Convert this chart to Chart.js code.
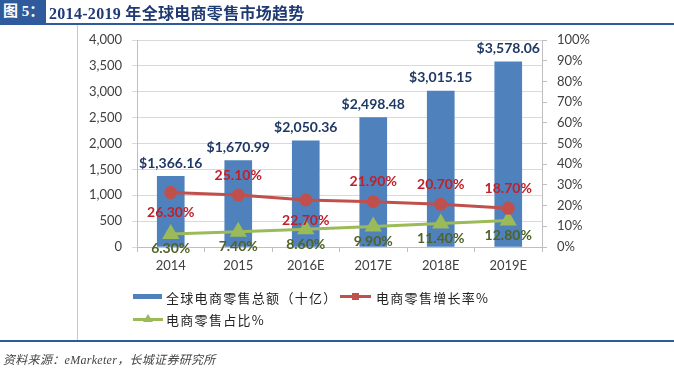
<!DOCTYPE html>
<html>
<head>
<meta charset="utf-8">
<script src="https://cdn.jsdelivr.net/npm/chart.js@4/dist/chart.umd.min.js"></script>
<style>
  body { margin: 0; background: #fff; }
  #wrap { position: relative; width: 674px; height: 371px; overflow: hidden; }
  #chart { position: absolute; left: 0; top: 0; }
  .title-box { position: absolute; left: 0; top: 0; width: 46px; height: 23px; background: #2f5b9c; color: #fff;
    font: bold 15px "Liberation Serif", "Noto Sans CJK SC", serif; line-height: 23px; padding-left: 3px; box-sizing: border-box; }
  .title { position: absolute; left: 49px; top: 0; height: 23px; line-height: 23px; color: #1f3a73;
    font: bold 16px "Liberation Serif", "Noto Sans CJK SC", serif; letter-spacing: 0.3px; }
  .rule-top { position: absolute; left: 0; top: 23px; width: 674px; height: 2px; background: #2f5b9c; }
  .rule-bottom { position: absolute; left: 0; top: 340px; width: 674px; height: 2px; background: #2f5b9c; }
  .vline { position: absolute; left: 77px; top: 25px; width: 1px; height: 315px; background: #c8c8c8; }
  .source { position: absolute; left: 3px; top: 350px; color: #444;
    font: italic 12px "Liberation Serif", "Noto Sans CJK SC", serif; letter-spacing: 0.3px; }
  .legend { position: absolute; font: 13px "Noto Sans CJK SC", sans-serif; color: #222; height: 16px; line-height: 16px; }
  .legend .key { position: absolute; left: 0; top: 0; width: 30px; height: 16px; }
  .legend span.txt { position: absolute; left: 33px; top: -1px; white-space: nowrap; letter-spacing: 1.3px; }
</style>
</head>
<body>
<div id="wrap">
  <canvas id="chart" width="674" height="371"></canvas>
  <div class="title-box">图 5：</div>
  <div class="title">2014-2019 年全球电商零售市场趋势</div>
  <div class="rule-top"></div>
  <div class="vline"></div>
  <div class="legend" style="left:133px; top:291px;">
    <div class="key"><div style="position:absolute;left:0;top:3px;width:29px;height:5px;background:#4f81bd;"></div></div>
    <span class="txt">全球电商零售总额（十亿）</span>
  </div>
  <div class="legend" style="left:340px; top:291px;">
    <div class="key"><div style="position:absolute;left:0;top:4px;width:31px;height:3px;background:#c0504d;"></div>
      <div style="position:absolute;left:12px;top:2px;width:7px;height:7px;background:#c0504d;"></div></div>
    <span class="txt" style="left:36px;">电商零售增长率%</span>
  </div>
  <div class="legend" style="left:133px; top:313px;">
    <div class="key"><div style="position:absolute;left:0;top:5px;width:30px;height:3px;background:#9bbb59;"></div>
      <div style="position:absolute;left:10px;top:1px;width:0;height:0;border-left:5px solid transparent;border-right:5px solid transparent;border-bottom:8px solid #9bbb59;"></div></div>
    <span class="txt">电商零售占比%</span>
  </div>
  <div class="rule-bottom"></div>
  <div class="source">资料来源：eMarketer，长城证券研究所</div>
</div>
<script>
// chart data
const years = ['2014', '2015', '2016E', '2017E', '2018E', '2019E'];
const salesTotal = [1366.16, 1670.99, 2050.36, 2498.48, 3015.15, 3578.06];
const growthRate = [26.3, 25.1, 22.7, 21.9, 20.7, 18.7];
const shareRate = [6.3, 7.4, 8.6, 9.9, 11.4, 12.8];
// which side of the point each growth label sits on
const growthLabelSide = ['below', 'above', 'below', 'above', 'above', 'above'];

const AXIS_FONT = { family: 'Lato, "Open Sans", sans-serif', size: 13 };
const GRID = '#d9d9d9';
const BORDER = '#bfbfbf';

function money(v) {
    return '$' + v.toLocaleString('en-US', { minimumFractionDigits: 2, maximumFractionDigits: 2 });
}

// draws the value labels next to bars and points
const valueLabels = {
    id: 'valueLabels',
    afterDatasetsDraw(chart) {
        const ctx = chart.ctx;
        ctx.save();
        ctx.textAlign = 'center';
        ctx.textBaseline = 'middle';
        ctx.font = 'bold 14px Lato, "Open Sans", sans-serif';
        chart.data.datasets.forEach((ds, i) => {
            const meta = chart.getDatasetMeta(i);
            ctx.fillStyle = ds.labelColor;
            meta.data.forEach((el, j) => {
                let text, dy;
                if (ds.type === 'bar') {
                    text = money(ds.data[j]);
                    dy = -13;
                } else if (ds.labelSide) {
                    text = ds.data[j].toFixed(2) + '%';
                    dy = ds.labelSide[j] === 'above' ? -20 : 20;
                } else {
                    text = ds.data[j].toFixed(2) + '%';
                    dy = 15;
                }
                ctx.fillText(text, el.x, el.y + dy);
            });
        });
        ctx.restore();
    }
};

new Chart(document.getElementById('chart'), {
    data: {
        labels: years,
        datasets: [
            {
                type: 'line',
                label: '电商零售增长率%',
                data: growthRate,
                yAxisID: 'y1',
                borderColor: '#c0504d',
                backgroundColor: '#c0504d',
                borderWidth: 3,
                pointStyle: 'circle',
                pointRadius: 5,
                labelColor: '#c0202a',
                labelSide: growthLabelSide,
                order: 1
            },
            {
                type: 'line',
                label: '电商零售占比%',
                data: shareRate,
                yAxisID: 'y1',
                borderColor: '#9bbb59',
                backgroundColor: '#9bbb59',
                borderWidth: 3,
                pointStyle: 'triangle',
                pointRadius: 7,
                labelColor: '#4f6228',
                order: 2
            },
            {
                type: 'bar',
                label: '全球电商零售总额（十亿）',
                data: salesTotal,
                yAxisID: 'y',
                backgroundColor: '#4f81bd',
                barThickness: 27,
                labelColor: '#1f3864',
                order: 3
            }
        ]
    },
    options: {
        responsive: false,
        animation: false,
        layout: { padding: { top: 40, left: 0, right: 0, bottom: 0 } },
        plugins: {
            legend: { display: false },
            tooltip: { enabled: false }
        },
        scales: {
            x: {
                grid: { display: true, drawOnChartArea: false, color: BORDER, tickLength: 5, offset: true },
                border: { color: BORDER },
                ticks: { font: AXIS_FONT, color: '#404040', padding: 6 },
                afterFit: s => { s.height = 124; }
            },
            y: {
                position: 'left',
                min: 0,
                max: 4000,
                grid: { color: GRID, tickLength: 5 },
                border: { color: BORDER },
                ticks: {
                    stepSize: 500,
                    font: AXIS_FONT,
                    color: '#404040',
                    padding: 10,
                    callback: v => v.toLocaleString('en-US')
                },
                afterFit: s => { s.width = 137; }
            },
            y1: {
                position: 'right',
                min: 0,
                max: 100,
                grid: { drawOnChartArea: false, color: BORDER, tickLength: 5 },
                border: { color: BORDER },
                ticks: {
                    stepSize: 10,
                    font: AXIS_FONT,
                    color: '#404040',
                    padding: 10,
                    callback: v => v + '%'
                },
                afterFit: s => { s.width = 132; }
            }
        }
    },
    plugins: [valueLabels]
});
</script>
</body>
</html>
